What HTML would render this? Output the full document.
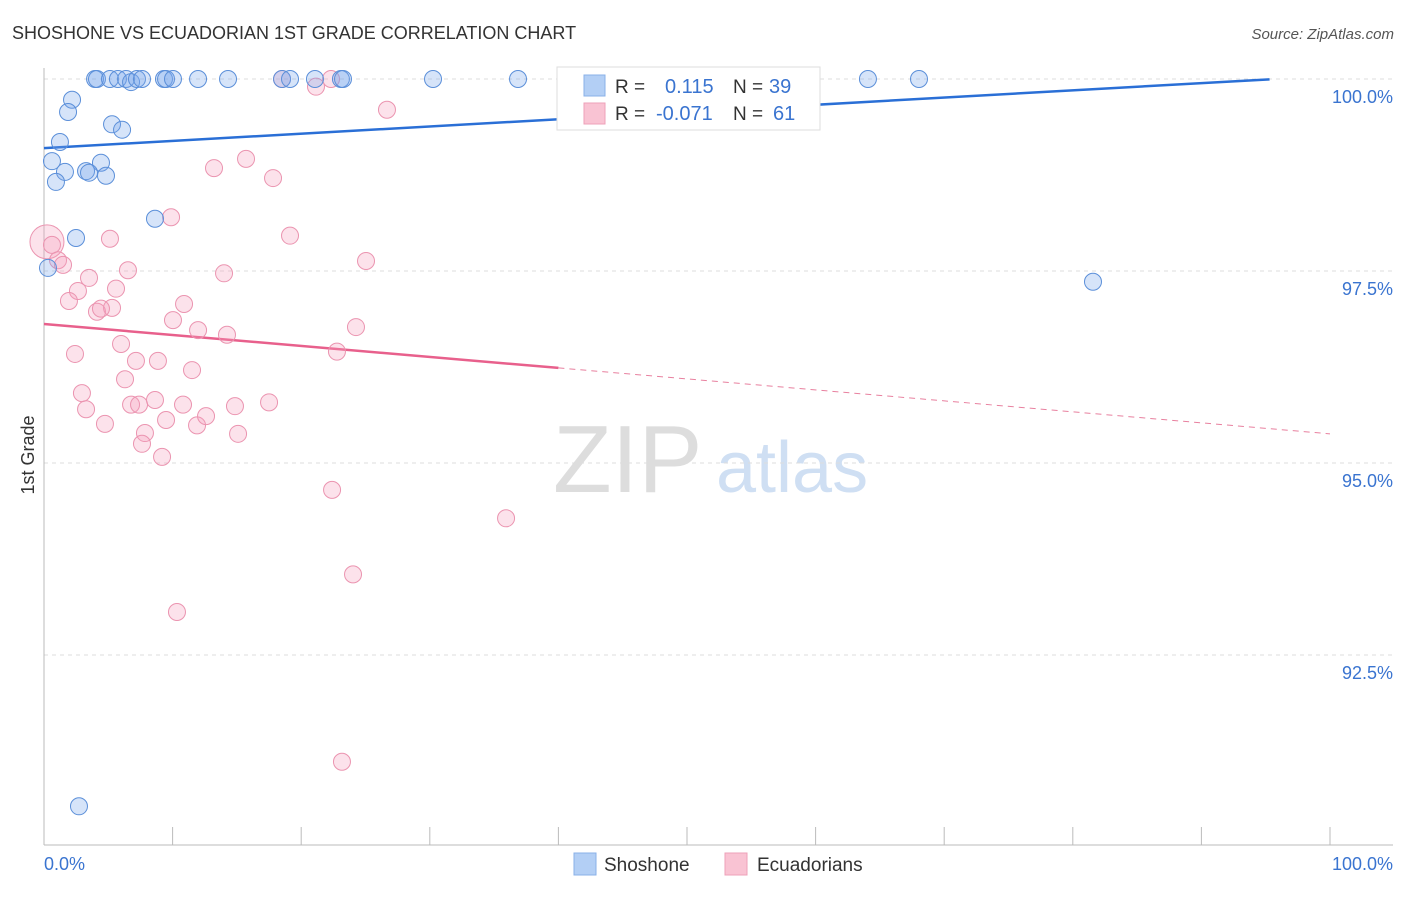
<!DOCTYPE html>
<html><head><meta charset="utf-8"><style>
body{margin:0;background:#fff;font-family:"Liberation Sans",sans-serif;}
svg text{font-family:"Liberation Sans",sans-serif;}
</style></head><body>
<svg id="chart" width="1406" height="892" viewBox="0 0 1406 892" xmlns="http://www.w3.org/2000/svg">
<text x="12" y="39" font-size="18" fill="#333">SHOSHONE VS ECUADORIAN 1ST GRADE CORRELATION CHART</text>
<text x="1394" y="39" font-size="15" fill="#555" text-anchor="end" font-style="italic">Source: ZipAtlas.com</text>
<g>
<text x="553" y="492" font-size="96" fill="#ddd" font-family="Liberation Serif,serif">ZIP</text>
<text x="716" y="492" font-size="72" fill="#cfdff3">atlas</text>
</g>
<g id="grid"></g>
<g id="axes"></g>
<g id="lines"></g>
<g id="points"></g>
<g>
<rect x="557" y="67" width="263" height="63" fill="#fff" stroke="#ddd"/>
<rect x="584" y="75" width="21" height="21" fill="#b3cff5" stroke="#8ab0e8"/>
<rect x="584" y="103" width="21" height="21" fill="#f9c3d3" stroke="#eea0b8"/>
<text x="615" y="93" font-size="19" fill="#333">R =</text>
<text x="665" y="93" font-size="20" fill="#3a74d0">0.115</text>
<text x="733" y="93" font-size="19" fill="#333">N =</text>
<text x="769" y="93" font-size="20" fill="#3a74d0">39</text>
<text x="615" y="120" font-size="19" fill="#333">R =</text>
<text x="656" y="120" font-size="20" fill="#3a74d0">-0.071</text>
<text x="733" y="120" font-size="19" fill="#333">N =</text>
<text x="773" y="120" font-size="20" fill="#3a74d0">61</text>
</g>
<g>
<rect x="574" y="853" width="22" height="22" fill="#b3cff5" stroke="#8ab0e8"/>
<text x="604" y="871" font-size="19" fill="#333">Shoshone</text>
<rect x="725" y="853" width="22" height="22" fill="#f9c3d3" stroke="#eea0b8"/>
<text x="757" y="871" font-size="19" fill="#333">Ecuadorians</text>
</g>
<text transform="translate(34,455) rotate(-90)" font-size="18" fill="#333" text-anchor="middle">1st Grade</text>
</svg>
<script>
const yTicks=[100,97.5,95,92.5];
const yTickLabels=["100.0%","97.5%","95.0%","92.5%"];
const xTickLabels=["0.0%","100.0%"];
const blueX=[3.97,4.12,5.13,5.75,6.38,6.77,7.23,7.62,9.33,9.49,10.03,11.98,14.31,18.51,19.13,21.07,23.09,23.25,30.25,36.86,42.3,64.07,68.04,2.18,1.87,5.29,6.07,1.24,0.62,1.63,3.27,4.43,3.5,4.82,0.93,8.63,2.49,0.31,81.57,2.72];
const blueY=[100,100,100,100,100,99.96,100,100,100,100,100,100,100,100,100,100,100,100,100,100,100,100,100,99.73,99.57,99.41,99.34,99.18,98.93,98.79,98.8,98.91,98.78,98.74,98.66,98.18,97.93,97.54,97.36,90.53];
const pinkX=[18.51,21.15,22.32,26.67,13.22,15.71,17.81,9.88,19.13,5.13,25.04,0.23,0.62,1.09,1.48,6.53,3.5,14.0,2.64,1.94,5.6,10.89,4.12,5.29,4.43,10.03,14.23,11.98,5.99,24.26,22.78,2.41,7.15,8.86,11.51,6.3,2.95,3.27,6.77,7.39,8.63,10.81,14.85,17.5,4.74,7.85,7.62,9.49,11.9,12.6,15.09,9.18,22.4,35.93,24.03,10.34,23.17];
const pinkY=[100,99.9,100,99.6,98.84,98.96,98.71,98.2,97.96,97.92,97.63,97.88,97.84,97.64,97.58,97.51,97.41,97.47,97.24,97.11,97.27,97.07,96.97,97.02,97.01,96.86,96.67,96.73,96.55,96.77,96.45,96.42,96.33,96.33,96.21,96.09,95.91,95.7,95.76,95.76,95.82,95.76,95.74,95.79,95.51,95.39,95.25,95.56,95.49,95.61,95.38,95.08,94.65,94.28,93.55,93.06,91.11];
const blueTrend=[99.1,100.04];
const pinkTrend=[96.81,95.38];
const NS="http://www.w3.org/2000/svg";
const X0=44,X1=1330,Y100=79,PPU=76.8;
const sx=v=>X0+(X1-X0)*v/100;
const sy=v=>Y100+(100-v)*PPU;
function mk(tag,attrs,parent){const e=document.createElementNS(NS,tag);for(const k in attrs)e.setAttribute(k,attrs[k]);parent.appendChild(e);return e;}
const grid=document.getElementById('grid'),axes=document.getElementById('axes'),lines=document.getElementById('lines'),pts=document.getElementById('points');
yTicks.forEach((t,i)=>{
 const l=mk('line',{x1:X0,x2:1393,y1:sy(t),y2:sy(t),stroke:'#ddd','stroke-dasharray':'4,4'},grid);
 
 
 const tx=mk('text',{x:1393,y:sy(t)+24,'font-size':18,fill:'#3a74d0','text-anchor':'end'},axes);
 tx.textContent=yTickLabels[i];
 
 
});
const ax=mk('line',{x1:X0,x2:X0,y1:68,y2:845,stroke:'#bbb'},axes);


const bx=mk('line',{x1:X0,x2:1393,y1:845,y2:845,stroke:'#bbb'},axes);


for(let i=0;i<=10;i++){
 const t=mk('line',{x1:sx(i*10),x2:sx(i*10),y1:827,y2:845,stroke:'#bbb'},axes);
 
 
}
const xl0=mk('text',{x:X0,y:870,'font-size':18,fill:'#3a74d0'},axes);xl0.textContent=xTickLabels[0];


const xl1=mk('text',{x:1393,y:870,'font-size':18,fill:'#3a74d0','text-anchor':'end'},axes);xl1.textContent=xTickLabels[1];


for(let i=0;i<pinkX.length;i++){
 const r=(i==11)?17:8.5;
 const c=mk('circle',{cx:sx(pinkX[i]),cy:sy(pinkY[i]),r:r,fill:'rgba(244,160,188,0.3)',stroke:'#eb94b0','stroke-width':1},pts);
 
 
}
for(let i=0;i<blueX.length;i++){
 const c=mk('circle',{cx:sx(blueX[i]),cy:sy(blueY[i]),r:8.5,fill:'rgba(120,165,235,0.3)',stroke:'#5b8fd9','stroke-width':1},pts);
 
 
}
const bEnd=95.3;
const bl=mk('line',{x1:sx(0),y1:sy(blueTrend[0]),x2:sx(bEnd),y2:sy(blueTrend[0]+(blueTrend[1]-blueTrend[0])*bEnd/100),stroke:'#2a6fd6','stroke-width':2.5},lines);


const pm=40;const pmy=pinkTrend[0]+(pinkTrend[1]-pinkTrend[0])*pm/100;
const pl=mk('line',{x1:sx(0),y1:sy(pinkTrend[0]),x2:sx(pm),y2:sy(pmy),stroke:'#e8608c','stroke-width':2.5},lines);


const pd=mk('line',{x1:sx(pm),y1:sy(pmy),x2:sx(100),y2:sy(pinkTrend[1]),stroke:'#e8809f','stroke-width':1,'stroke-dasharray':'6,5'},lines);


</script>
</body></html>
